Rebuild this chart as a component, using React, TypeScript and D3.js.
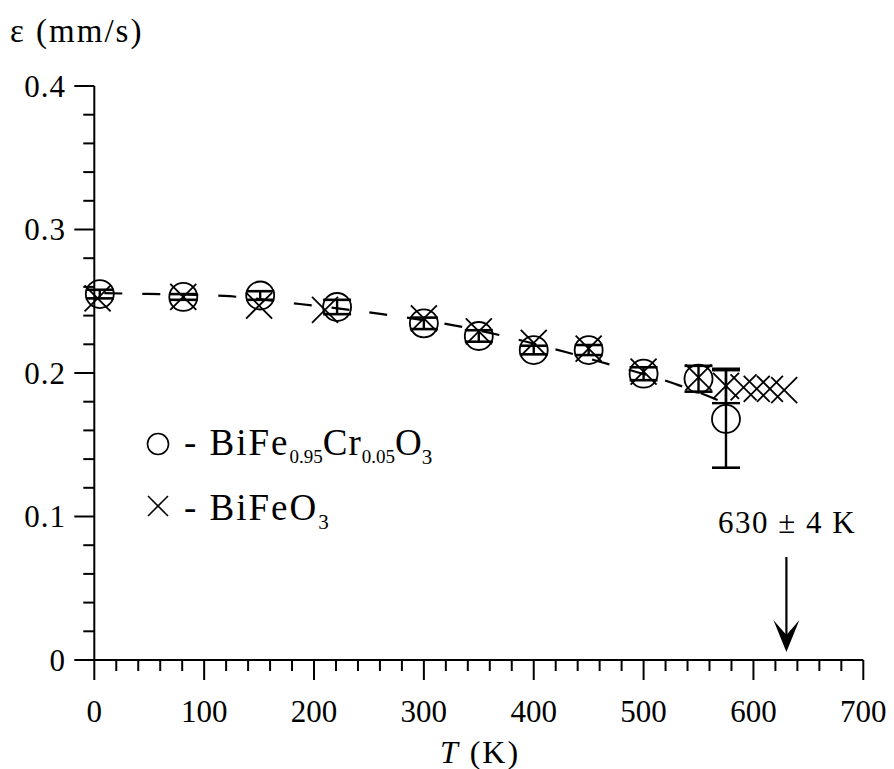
import React from "react";
import * as d3 from "d3";

// BiFe0.95Cr0.05O3 (circles): temperature, epsilon, error
const crT = [5, 81, 151, 221, 300, 350, 400, 450, 500, 550, 575];
const crE = [0.255, 0.253, 0.254, 0.246, 0.2346, 0.2258, 0.216, 0.216, 0.1995, 0.196, 0.168];
const crErr = [0.003, 0.002, 0.003, 0.005, 0.004, 0.004, 0.003, 0.0035, 0.0045, 0.009, 0.034];

// BiFeO3 (crosses)
const bfT = [3, 81, 150, 210, 300, 350, 400, 450, 500, 550, 575, 591, 603, 615, 628];
const bfE = [0.252, 0.253, 0.247, 0.244, 0.238, 0.229, 0.221, 0.217, 0.201, 0.197, 0.191, 0.19, 0.189, 0.189, 0.188];
const bfErr = [0, 0, 0, 0, 0, 0, 0, 0, 0, 0, 0.012, 0, 0, 0, 0];

// dashed guide curve
const fitT = [0, 48, 118, 187, 257, 326, 429, 461, 529, 563, 575];
const fitE = [0.2557, 0.2551, 0.2537, 0.2481, 0.2415, 0.2334, 0.2146, 0.2077, 0.1923, 0.1826, 0.1785];

const xMajor = [0, 100, 200, 300, 400, 500, 600, 700];
const yMajor = [0, 0.1, 0.2, 0.3, 0.4];
const yLabels = ["0", "0.1", "0.2", "0.3", "0.4"];
const tcValue = 630;

const W = 894;
const H = 769;
const FONT = "Liberation Serif, Times New Roman, DejaVu Serif, serif";

export default function App() {
  const x = d3.scaleLinear().domain([0, 700]).range([94.3, 863.3]);
  const y = d3.scaleLinear().domain([0, 0.4]).range([660, 86]);

  const xMinor = d3.range(0, 701, 20).filter((v) => v % 100 !== 0);
  const yMinor = d3.range(0, 0.401, 0.02).filter((v) => Math.abs(v * 10 - Math.round(v * 10)) > 1e-6);

  const fitLine = d3
    .line<number>()
    .x((_, i) => x(fitT[i]))
    .y((d) => y(d))
    .curve(d3.curveMonotoneX);

  const r = 14;
  const xs = 13;
  const cap = 14;

  const sw = 1.8;
  const ax0 = x(0);
  const ay0 = y(0);

  const arrowX = x(tcValue);
  const arrowTip = ay0 - 8;
  const arrowTop = ay0 - 103;

  return (
    <svg width={W} height={H} style={{ position: "absolute", left: 0, top: 0, background: "#fff" }}>
      <rect width={W} height={H} fill="#fff" />
      {/* dashed line */}
      <path d={fitLine(fitE) || ""} fill="none" stroke="#000" strokeWidth={2.2} strokeDasharray="18,20" strokeDashoffset={-10} />

      {/* crosses */}
      {bfT.map((t, i) => {
        const cx = x(t);
        const cy = y(bfE[i]);
        return (
          <g key={"b" + i} stroke="#000" strokeWidth={sw} fill="none">
            <line x1={cx - xs} y1={cy - xs} x2={cx + xs} y2={cy + xs} />
            <line x1={cx - xs} y1={cy + xs} x2={cx + xs} y2={cy - xs} />
            {bfErr[i] > 0 && (
              <>
                <line x1={cx} y1={y(bfE[i] + bfErr[i])} x2={cx} y2={y(bfE[i] - bfErr[i])} strokeWidth={2.4} />
                <line x1={cx - cap} y1={y(bfE[i] + bfErr[i])} x2={cx + cap} y2={y(bfE[i] + bfErr[i])} strokeWidth={2.4} />
                <line x1={cx - cap} y1={y(bfE[i] - bfErr[i])} x2={cx + cap} y2={y(bfE[i] - bfErr[i])} strokeWidth={2.4} />
              </>
            )}
          </g>
        );
      })}

      {/* circles with error bars */}
      {crT.map((t, i) => {
        const cx = x(t);
        const cy = y(crE[i]);
        const yt = y(crE[i] + crErr[i]);
        const yb = y(crE[i] - crErr[i]);
        return (
          <g key={"c" + i} stroke="#000" fill="none">
            <circle cx={cx} cy={cy} r={r} strokeWidth={sw} />
            <line x1={cx} y1={yt} x2={cx} y2={yb} strokeWidth={2.4} />
            <line x1={cx - cap} y1={yt} x2={cx + cap} y2={yt} strokeWidth={2.6} />
            <line x1={cx - cap} y1={yb} x2={cx + cap} y2={yb} strokeWidth={2.6} />
          </g>
        );
      })}

      {/* axes */}
      <g stroke="#000" strokeWidth={2}>
        <line x1={ax0} y1={ay0} x2={x(700)} y2={ay0} />
        <line x1={ax0} y1={ay0} x2={ax0} y2={y(0.4)} />
        {xMajor.map((v) => (
          <line key={"xM" + v} x1={x(v)} y1={ay0} x2={x(v)} y2={ay0 + 20} />
        ))}
        {xMinor.map((v) => (
          <line key={"xm" + v} x1={x(v)} y1={ay0} x2={x(v)} y2={ay0 + 11} />
        ))}
        {yMajor.map((v) => (
          <line key={"yM" + v} x1={ax0 - 20} y1={y(v)} x2={ax0} y2={y(v)} />
        ))}
        {yMinor.map((v, i) => (
          <line key={"ym" + i} x1={ax0 - 11} y1={y(v)} x2={ax0} y2={y(v)} />
        ))}
      </g>

      <g fontFamily={FONT} fontSize={31} fill="#000">
        {xMajor.map((v) => (
          <text key={"xl" + v} x={x(v)} y={722} textAnchor="middle">
            {v}
          </text>
        ))}
        {yMajor.map((v, i) => (
          <text key={"yl" + v} x={66} y={y(v) + 10.5} textAnchor="end" letterSpacing={1}>
            {yLabels[i]}
          </text>
        ))}
        <text x={480} y={763} textAnchor="middle" fontSize={32} letterSpacing={2}>
          <tspan fontStyle="italic">T</tspan> (K)
        </text>
        <text x={10} y={42} fontSize={33} letterSpacing={2}>ε (mm/s)</text>
        <text x={787} y={533} textAnchor="middle" letterSpacing={1.5}>630 ± 4 K</text>
      </g>

      {/* arrow */}
      <line x1={arrowX} y1={arrowTop} x2={arrowX} y2={arrowTip - 10} stroke="#000" strokeWidth={2.2} />
      <path
        d={`M${arrowX},${arrowTip} L${arrowX - 13},${arrowTip - 32} L${arrowX},${arrowTip - 17} L${arrowX + 13},${arrowTip - 32} Z`}
        fill="#000"
      />

      {/* legend */}
      <g stroke="#000" strokeWidth={1.6} fill="none">
        <circle cx={158} cy={444} r={10.5} />
        <line x1={148} y1={496} x2={168} y2={516} />
        <line x1={148} y1={516} x2={168} y2={496} />
      </g>
      <g fontFamily={FONT} fontSize={37} fill="#000">
        <text x={184} y={455}>
          <tspan letterSpacing={2}>- BiFe</tspan>
          <tspan fontSize={19} dy={8}>0.95</tspan>
          <tspan dy={-8} letterSpacing={1}>Cr</tspan>
          <tspan fontSize={19} dy={8}>0.05</tspan>
          <tspan dy={-8}>O</tspan>
          <tspan fontSize={21} dy={9}>3</tspan>
        </text>
        <text x={184} y={520}>
          <tspan letterSpacing={2}>- BiFeO</tspan>
          <tspan fontSize={21} dy={9}>3</tspan>
        </text>
      </g>
    </svg>
  );
}
